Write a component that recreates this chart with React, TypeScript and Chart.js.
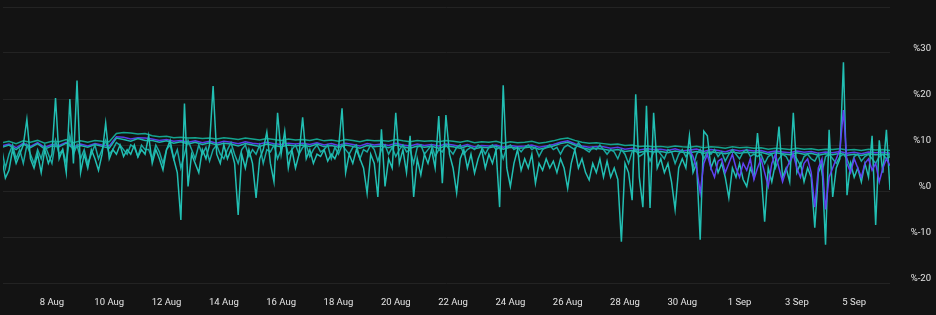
import React, { useEffect, useRef } from "react";
import { Chart, registerables } from "chart.js";

Chart.register(...registerables);

// Hours are counted from 6 Aug 00:00
const xTickHours = [48, 96, 144, 192, 240, 288, 336, 384, 432, 480, 528, 576, 624, 672, 720];
const xTickLabels = ["8 Aug", "10 Aug", "12 Aug", "14 Aug", "16 Aug", "18 Aug", "20 Aug", "22 Aug", "24 Aug", "26 Aug", "28 Aug", "30 Aug", "1 Sep", "3 Sep", "5 Sep"];
const yTicks = [-20, -10, 0, 10, 20, 30, 40];

// 3-hourly series starting at hour 6
const tealVol = [
  7, 2.8, 4.5, 9, 6, 8, 10, 15.6, 7, 5,
  8, 4, 9, 6, 8, 20.2, 7, 9, 4, 20,
  6, 24, 4, 8, 5, 9, 7, 4.5, 8, 14.8,
  7, 9, 8, 10, 7.5, 9, 8, 10, 7.4, 9,
  8, 12, 6, 9, 7, 4.6, 9, 11, 7, 4,
  -6.3, 19, 1, 8, 6, 4, 9, 7, 10, 22.8,
  8, 6, 10, 7, 9, 6, -5.2, 8, 5, 9,
  6, -1.5, 7, 9, 12.8, 6, 2, 17, 8, 13,
  5, 9, 5, 8, 16, 7, 9, 6, 8, 7.5,
  9, 6.5, 8, 7, 9, 18, 4, 8, 6, 9,
  7, 5, -0.5, 8, 6, -1.3, 13.4, 1, 7, 5,
  17, 6, 9, 4, 12, -1.3, 7, 3.5, 8, 6,
  9, 5, 16.3, 1.7, 16.5, 8, 5, -0.4, 7, 9,
  5, 8, 3.9, 7, 9, 5, 8, 6, 9, -3.5,
  23, 5, 1, 6, 9, 4.5, 7, 5, 8, 1.7,
  6, 4.5, 7, 5, 6.5, 4, 7, 5, 0.6, 6,
  9, 5, 7, 4, 2.4, 6, 4, 7, 3, 6.5,
  3, 5, 2.5, -11, 6, 4, -2, 21, 3, -3.5,
  18.5, -3.7, 17, 5, 7, 4, 6, 2, -4, 5,
  7, 5, 12, 4, 6, -10.6, 13, 12, 5, 7,
  4, 6, 3, -1.5, 5, 3, 6, 2.5, 1, 5,
  3, 12.6, 4, -6.7, 5, 2, 6, 14, 3, 5,
  2, 17, 4, 6, 2, 5, 3, -8, 4, 6,
  -11.7, 13.3, -1.3, 5, 7, 28, -0.9, 6, 3, 5,
  2, 6, 3, 12, -7.4, 11, 4, 13.3, 0.2,
];

const tealMid = [
  9, 5, 8, 10, 7, 9, 6, 10, 8, 6, 9, 7, 10, 8, 6, 11, 8, 9, 6, 12, 8, 10, 7, 9, 6, 8, 10, 7, 9, 11, 8,
  9, 10.5, 10, 9, 8, 10, 9.5, 7.5, 10, 9,
  9, 7, 10, 8.5, 6, 9, 10, 7, 9, 5, 8, 11, 9, 7, 10, 8, 9.5, 6.5, 9, 10,
  8, 7, 9, 10.5, 8, 6, 9, 10, 7.5, 9, 8, 10, 6, 9, 8.5, 10, 7, 9, 11, 8,
  9, 10, 8, 9.5, 10, 7.5, 9, 10, 8.5, 9, 10, 7, 9.5, 8, 10, 9, 8, 9.5, 10, 7,
  9, 8.5, 10, 9, 6.5, 9, 10, 8, 9.5, 7.5, 9, 10, 8.5, 9, 6, 9.5, 10, 8, 9, 10,
  7.5, 9, 8.5, 10, 9, 8, 9.5, 10, 8, 9,
  9.5, 9, 10, 9.5, 8, 9.5, 10, 9, 9.5, 7, 9.5, 10, 9, 9.5, 8.5, 9.5, 10, 9, 9.5, 7.5,
  9, 9.5, 10, 9, 9.5, 8, 9.5, 10, 9.5, 9, 10.5, 9.5, 9, 8.5, 9.5, 9, 10, 9, 8, 9,
  8.5, 7, 9, 8, 6, 8.5, 9, 7.5, 8, 9, 6.5, 8.5, 9, 8, 7, 9, 8.5, 6, 8, 9,
  7.5, 8.5, 5, 8, 9, 7, 8.5, 8, 9, 7.5, 8.5, 6.5, 8, 9, 8, 7, 8.5, 9, 7.5, 8,
  7.5, 8, 6, 7.5, 8, 5, 7, 8, 7.5, 6, 8, 7, 5.5, 7.5, 8, 7, 6.5, 8, 4,
  7.5, 8, 7, 6, 7.5, 8, 7, 5, 7.5, 8, 6.5, 7.5, 8, 7, 6, 7.5, 8, 7, 7.5,
];

// 6-hourly series starting at hour 6
const tealTop = [
  10.5, 10.8, 10.3, 10.9, 10.6, 11, 10.4, 10.8, 10.7, 11.2, 10.5, 10.9, 10.6, 11, 10.8, 10.7,
  12.5, 12.7, 12.6, 12.4, 12.5,
  12, 11.8, 11.9, 11.6, 11.7, 11.5, 11.6, 11.4, 11.5, 11.3, 11.6, 11.4, 11.2, 11.5, 11.3, 11.1, 11.4, 11.2, 11, 11.3, 11.1,
  11.2, 11, 11.3, 10.9, 11.1, 10.8, 11.2, 11, 10.7, 11.1, 10.9, 11, 10.8, 11.2, 10.9, 10.7, 11, 10.8, 10.9, 10.7, 11,
  10.8, 10.6, 10.9, 10.5, 10.7, 10.6, 10.8, 10.4, 10.7, 10.5, 10.6, 10.8, 10.4, 10.6, 10.9, 11.3, 11.5, 11, 10.6, 10.4, 10.5,
  10.3, 10.1, 10.2, 9.9, 10, 9.7, 9.8, 9.6, 9.7, 9.5, 9.8, 9.6, 9.5, 9.7, 9.4, 9.6, 9.5, 9.3, 9.6, 9.4, 9.5,
  9.3, 9.4, 9.1, 9.3, 9.2, 9, 9.3, 9.1, 9.2, 8.9, 9.1, 9, 9.2, 8.9, 9, 8.8, 9.1, 8.9, 9, 8.8,
];

const tealSecond = [
  9.5, 10, 9, 10.2, 9.4, 10.3, 9.1, 9.8, 9.6, 10.4, 9.2, 9.9, 9.5, 10.1, 9.7, 9.3,
  11.5, 11.2, 10.8, 11.4, 11,
  11, 10.6, 10.9, 10.4, 10.7, 10.2, 10.6, 10.1, 10.5, 10, 10.4, 10.2, 9.8, 10.3, 10, 9.7, 10.2, 9.9, 9.6, 10, 9.8,
  10, 9.7, 10.2, 9.6, 9.9, 9.5, 10, 9.7, 9.3, 9.9, 9.6, 9.8, 9.4, 10, 9.6, 9.3, 9.8, 9.5, 9.7, 9.3, 9.8,
  9.6, 9.3, 9.8, 9.2, 9.5, 9.4, 9.7, 9.1, 9.5, 9.3, 9.4, 9.6, 9.1, 9.4, 9.8, 10.3, 10.6, 10, 9.4, 9.1, 9.3,
  9.1, 8.8, 9, 8.6, 8.8, 8.4, 8.7, 8.5, 8.6, 8.3, 8.7, 8.4, 8.3, 8.6, 8.2, 8.5, 8.3, 8.1, 8.5, 8.2, 8.4,
  8.3, 8.4, 8, 8.3, 8.1, 7.9, 8.3, 8, 8.2, 7.8, 8.1, 7.9, 8.2, 7.8, 8, 7.7, 8.1, 7.9, 8, 7.8,
];

const purpleTop = [
  9.8, 10.2, 9.4, 10.4, 9.7, 10.5, 9.5, 10.1, 9.9, 10.6, 9.6, 10.2, 9.8, 10.3, 10, 9.8,
  11.8, 11.7, 11.3, 11.6, 11.5,
  11.3, 11, 11.2, 10.8, 11, 10.6, 10.9, 10.5, 10.8, 10.4, 10.8, 10.6, 10.3, 10.7, 10.4, 10.2, 10.6, 10.3, 10.1, 10.4, 10.2,
  10.4, 10.1, 10.5, 10, 10.3, 9.9, 10.4, 10.1, 9.8, 10.3, 10, 10.2, 9.9, 10.4, 10, 9.8, 10.2, 9.9, 10.1, 9.8, 10.2,
  10, 9.7, 10.1, 9.6, 9.9, 9.8, 10, 9.5, 9.9, 9.7, 9.8, 10, 9.5, 9.8, 10.1, 10.6, 10.9, 10.3, 9.8, 9.5, 9.7,
  9.6, 9.3, 9.5, 9.1, 9.3, 8.9, 9.2, 9, 9.1, 8.8, 9.2, 8.7, 8.9, 9.1, 8.6, 9, 8.8, 8.5, 9, 8.7, 8.9,
  8.7, 8.8, 8.4, 8.7, 8.5, 8.3, 8.7, 8.4, 8.6, 8.2, 8.5, 8.3, 8.6, 8.2, 8.4, 8.1, 8.5, 8.3, 8.4, 8.2,
];

// 3-hourly series starting at hour 582 (30 Aug 06:00)
const purpleVol = [
  9, 7.5, 5, -0.4, 6, 8, 5, 3, 6.5, 7,
  4, 6, 8, 5, 3, 6, 4.5, 7, 2.5, 5,
  7, 4, 1, 6, 8, 5, 2, 4.5, 6.5, 8,
  5, 3, 6, 7, 4, -3.5, 5, 7, -4, 3,
  5, 7, 9, 17.6, 6, 4, 7, 5, 3, 6,
  7, 4.5, 6, 2, 5, 7, 5.5,
];

const toXY = (arr: number[], start: number, step: number) =>
  arr.map((v, i) => ({ x: start + step * i, y: v }));

export default function App() {
  const ref = useRef<HTMLCanvasElement | null>(null);

  useEffect(() => {
    document.body.style.margin = "0";
    document.body.style.background = "#131313";
    if (!ref.current) return;
    const line = (label: string, data: any[], color: string, width = 1.5) => ({
      label,
      data,
      borderColor: color,
      backgroundColor: color,
      borderWidth: width,
      pointRadius: 0,
      tension: 0,
      fill: false,
    });
    const chart = new Chart(ref.current, {
      type: "line",
      data: {
        datasets: [
          line("purpleVol", toXY(purpleVol, 582, 3), "#5f43f2"),
          line("tealVol", toXY(tealVol, 6, 3), "#22bfb3"),
          line("tealTop", toXY(tealTop, 6, 6), "#14a48f"),
          line("tealMid", toXY(tealMid, 6, 3), "#1aa9a2"),
          line("tealSecond", toXY(tealSecond, 6, 6), "#1db3ab"),
          line("purpleTop", toXY(purpleTop, 6, 6), "#5a3ee8"),
        ],
      },
      options: {
        animation: false,
        responsive: true,
        maintainAspectRatio: false,
        parsing: false,
        normalized: true,
        layout: { padding: { left: 3, top: 7, right: 5, bottom: 0 } },
        plugins: { legend: { display: false }, tooltip: { enabled: false } },
        scales: {
          x: {
            type: "linear",
            min: 7,
            max: 750,
            grid: { display: false },
            border: { display: false },
            afterBuildTicks: (scale: any) => {
              scale.ticks = xTickHours.map((v) => ({ value: v }));
            },
            afterFit: (scale: any) => {
              scale.height = 32;
              scale.paddingLeft = 0;
              scale.paddingRight = 0;
            },
            ticks: {
              autoSkip: false,
              maxRotation: 0,
              padding: 6,
              color: "#e4e4e4",
              font: { family: "Roboto", size: 9.5 },
              callback: (v: any) => {
                const idx = xTickHours.indexOf(Number(v));
                return idx >= 0 ? xTickLabels[idx] : "";
              },
            },
          },
          y: {
            type: "linear",
            position: "right",
            min: -20,
            max: 40,
            afterBuildTicks: (scale: any) => {
              scale.ticks = yTicks.map((v) => ({ value: v }));
            },
            afterFit: (scale: any) => {
              scale.width = 41;
              scale.paddingTop = 0;
              scale.paddingBottom = 0;
            },
            grid: { color: "#232323", lineWidth: 1, drawTicks: false },
            border: { display: false },
            ticks: {
              crossAlign: "far",
              padding: 8,
              labelOffset: -4,
              color: "#e4e4e4",
              font: { family: "Roboto", size: 9.5 },
              callback: (v: any) => (Number(v) === 40 ? "" : "%" + v),
            },
          },
        },
      },
    } as any);
    return () => chart.destroy();
  }, []);

  return (
    <div style={{ width: 936, height: 315, background: "#131313", position: "relative" }}>
      <canvas ref={ref} />
    </div>
  );
}
